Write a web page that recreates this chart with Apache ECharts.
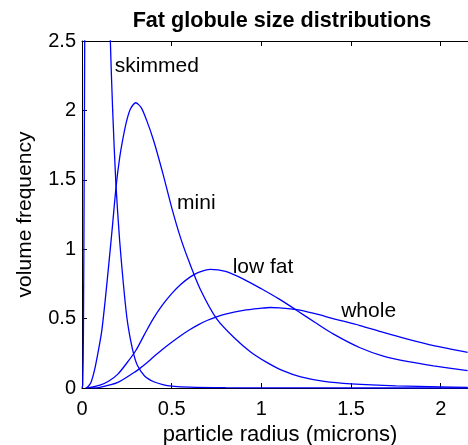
<!DOCTYPE html>
<html><head><meta charset="utf-8">
<script src="https://cdn.jsdelivr.net/npm/echarts@6/dist/echarts.min.js"></script>
<style>html,body{margin:0;padding:0;background:#fff}#c{width:468px;height:445px}</style>
</head><body><div id="c"></div>
<script>
var titleText = 'Fat globule size distributions';
var xName = 'particle radius (microns)';
var yName = 'volume frequency';
var xTicks = [0, 0.5, 1, 1.5, 2];
var yTicks = [0, 0.5, 1, 1.5, 2, 2.5];

var skimmedX = [0, 0.004, 0.008, 0.012, 0.016, 0.02, 0.04, 0.07, 0.1, 0.13, 0.145, 0.158, 0.171, 0.189, 0.21, 0.23, 0.25, 0.27, 0.29, 0.31, 0.35, 0.4, 0.45, 0.5, 0.6, 0.8, 1.0, 1.5, 2.15];
var skimmedY = [0, 0.02, 0.4, 1.5, 2.8, 4, 7, 8, 6.5, 4, 3.2, 2.5, 2.0, 1.47, 1.06, 0.76, 0.51, 0.35, 0.235, 0.16, 0.085, 0.045, 0.025, 0.014, 0.006, 0.002, 0.001, 0, 0];

var miniX = [0.02, 0.03, 0.05, 0.07, 0.09, 0.11, 0.13, 0.15, 0.17, 0.19, 0.21, 0.23, 0.25, 0.27, 0.30, 0.33, 0.36, 0.40, 0.45, 0.50, 0.55, 0.60, 0.66, 0.75, 0.85, 0.94, 1.03, 1.12, 1.22, 1.35, 1.5, 1.75, 2.0, 2.15];
var miniY = [0, 0.005, 0.04, 0.13, 0.26, 0.41, 0.64, 0.90, 1.17, 1.45, 1.66, 1.81, 1.93, 2.01, 2.055, 2.02, 1.93, 1.78, 1.55, 1.30, 1.08, 0.90, 0.71, 0.50, 0.36, 0.26, 0.185, 0.125, 0.08, 0.048, 0.03, 0.015, 0.008, 0.005];

var lowfatX = [0.03, 0.1, 0.15, 0.2, 0.25, 0.3, 0.35, 0.4, 0.45, 0.5, 0.55, 0.6, 0.65, 0.715, 0.8, 0.9, 1.0, 1.1, 1.2, 1.3, 1.4, 1.55, 1.68, 1.82, 1.96, 2.15];
var lowfatY = [0, 0.02, 0.05, 0.1, 0.18, 0.27, 0.39, 0.505, 0.60, 0.68, 0.745, 0.797, 0.833, 0.855, 0.84, 0.785, 0.715, 0.64, 0.557, 0.472, 0.39, 0.29, 0.23, 0.19, 0.16, 0.125];

var wholeX = [0.05, 0.1, 0.2, 0.3, 0.35, 0.4, 0.45, 0.5, 0.55, 0.6, 0.65, 0.7, 0.75, 0.8, 0.9, 1.0, 1.05, 1.1, 1.2, 1.3, 1.4, 1.55, 1.68, 1.82, 1.96, 2.15];
var wholeY = [0, 0.005, 0.04, 0.12, 0.17, 0.225, 0.28, 0.33, 0.377, 0.42, 0.457, 0.488, 0.513, 0.533, 0.56, 0.575, 0.58, 0.578, 0.565, 0.535, 0.50, 0.45, 0.40, 0.35, 0.305, 0.257];

var seriesNames = ['skimmed', 'mini', 'low fat', 'whole'];
var labelAnchors = [[0.183, 2.32], [0.53, 1.33], [0.84, 0.87], [1.445, 0.55]];

function zip(xs, ys) { return xs.map(function (x, i) { return [x, ys[i]]; }); }
var allData = [zip(skimmedX, skimmedY), zip(miniX, miniY), zip(lowfatX, lowfatY), zip(wholeX, wholeY)];

var FONT = '"Liberation Sans", Arial, sans-serif';
var chart = echarts.init(document.getElementById('c'), null, {renderer: 'canvas'});
var axisLineStyle = {color: '#000', width: 1};

chart.setOption({
  animation: false,
  backgroundColor: '#fff',
  title: {text: titleText, left: 277, top: 5, textAlign: 'center',
    textStyle: {fontFamily: FONT, fontWeight: 'bold', fontSize: 21.6, color: '#000'}},
  grid: {left: 82, top: 41, right: 0, bottom: 57, containLabel: false, outerBoundsMode: 'none'},
  xAxis: [{
    type: 'value', min: 0, max: 2.152, interval: 0.5, position: 'bottom',
    name: xName, nameLocation: 'middle', nameGap: 31,
    nameTextStyle: {fontFamily: FONT, fontSize: 22, color: '#000', padding: [0, 0, 0, 10]},
    axisLine: {show: true, onZero: false, lineStyle: axisLineStyle},
    axisTick: {show: true, inside: true, length: 5, lineStyle: axisLineStyle},
    axisLabel: {show: true, showMaxLabel: false, margin: 11, fontFamily: FONT, fontSize: 20, color: '#000',
      formatter: function (v) { return xTicks.indexOf(v) >= 0 ? String(v) : ''; }},
    splitLine: {show: false}
  }, {
    type: 'value', min: 0, max: 2.152, interval: 0.5, position: 'top',
    axisLine: {show: true, onZero: false, lineStyle: axisLineStyle},
    axisTick: {show: true, inside: true, length: 5, lineStyle: axisLineStyle},
    axisLabel: {show: false}, splitLine: {show: false}
  }],
  yAxis: {
    type: 'value', min: 0, max: 2.5, interval: 0.5,
    name: yName, nameLocation: 'middle', nameGap: 46,
    nameTextStyle: {fontFamily: FONT, fontSize: 21, color: '#000'},
    axisLine: {show: true, onZero: false, lineStyle: axisLineStyle},
    axisTick: {show: true, inside: true, length: 5, lineStyle: axisLineStyle},
    axisLabel: {margin: 6, fontFamily: FONT, fontSize: 20, color: '#000',
      formatter: function (v) { return yTicks.indexOf(v) >= 0 ? String(v) : ''; }},
    splitLine: {show: false}
  },
  series: allData.map(function (d, i) {
    return {name: seriesNames[i], type: 'line', data: d, showSymbol: false, symbol: 'none',
      smooth: 0.25, clip: true, lineStyle: {color: '#0000ff', width: 1.3}, itemStyle: {color: '#0000ff'}};
  })
});

var g = labelAnchors.map(function (a, i) {
  var p = chart.convertToPixel({xAxisIndex: 0, yAxisIndex: 0}, a);
  return {type: 'text', x: p[0], y: p[1], style: {text: seriesNames[i], fontFamily: FONT, fontSize: 21, fill: '#000',
    textAlign: 'left', textVerticalAlign: 'middle'}};
});
chart.setOption({graphic: g});
</script></body></html>
